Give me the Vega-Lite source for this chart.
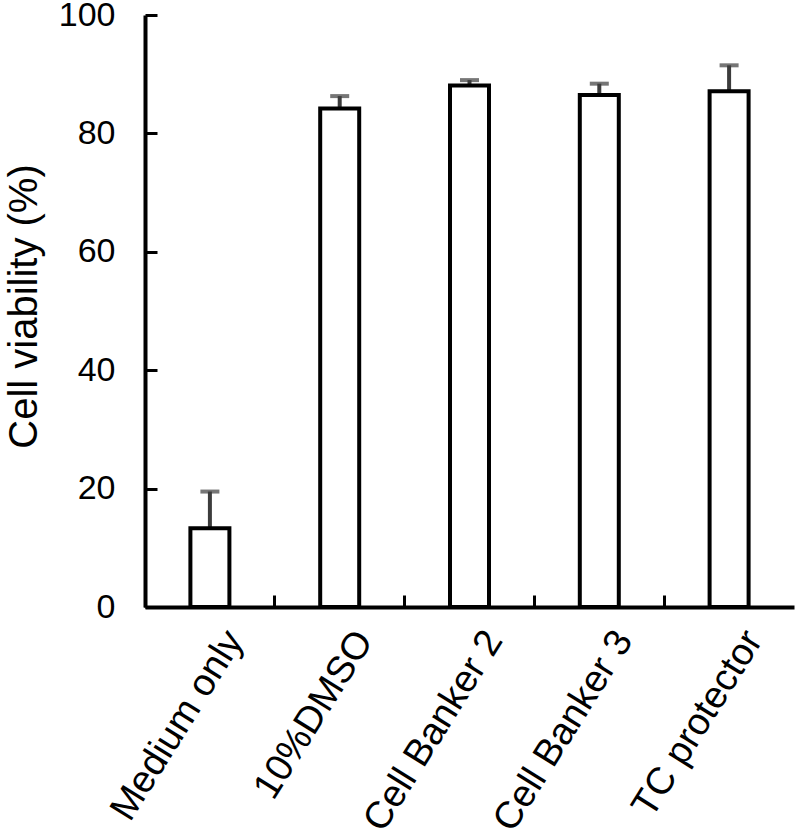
{
  "$schema": "https://vega.github.io/schema/vega-lite/v6.json",
  "width": 649,
  "height": 592,
  "autosize": {"type": "none"},
  "padding": {"left": 145, "top": 15, "right": 6, "bottom": 232},
  "background": "white",
  "config": {"view": {"stroke": null}, "font": "Liberation Sans"},
  "data": {"values": [
    {"group": "Medium only", "mean": 13.3, "upper": 19.5},
    {"group": "10%DMSO", "mean": 84.2, "upper": 86.3},
    {"group": "Cell Banker 2", "mean": 88.1, "upper": 89.0},
    {"group": "Cell Banker 3", "mean": 86.5, "upper": 88.4},
    {"group": "TC protector", "mean": 87.1, "upper": 91.5}
  ]},
  "resolve": {"axis": {"x": "independent", "y": "independent"}},
  "layer": [
    {
      "mark": {"type": "rule", "color": "#3c3c3c", "strokeWidth": 4},
      "encoding": {
        "x": {
          "field": "group", "type": "nominal", "sort": null,
          "scale": {"paddingInner": 0, "paddingOuter": 0},
          "axis": {
            "orient": "bottom", "title": null, "offset": -12, "domain": false, "labels": false,
            "bandPosition": 0, "tickSize": 12, "tickWidth": 3, "tickColor": "black", "tickOpacity": 1
          }
        },
        "y": {
          "field": "mean", "type": "quantitative", "scale": {"domain": [0, 100], "nice": false},
          "axis": {
            "orient": "left", "title": null, "offset": -12, "domain": false, "labels": false, "grid": false,
            "values": [0, 20, 40, 60, 80, 100], "tickSize": 12, "tickWidth": 3, "tickColor": "black"
          }
        },
        "y2": {"field": "upper"}
      }
    },
    {
      "mark": {"type": "bar", "fill": "white", "stroke": "black", "strokeWidth": 4, "width": 39},
      "encoding": {
        "x": {
          "field": "group", "type": "nominal", "sort": null,
          "axis": {
            "orient": "bottom", "title": null,
            "domainColor": "black", "domainWidth": 4, "ticks": false,
            "labelAngle": -58, "labelAlign": "right", "labelBaseline": "middle",
            "labelFontSize": 38, "labelColor": "black", "labelOffset": 25, "labelPadding": 27,
            "labelBound": false, "labelOverlap": false, "labelFlush": false, "labelLimit": 0
          }
        },
        "y": {
          "field": "mean", "type": "quantitative",
          "axis": {
            "orient": "left",
            "title": "Cell viability (%)", "titleFontSize": 40, "titleFontWeight": "normal", "titleColor": "black", "titlePadding": 14, "titleY": 291,
            "values": [0, 20, 40, 60, 80, 100], "grid": false,
            "domainColor": "black", "domainWidth": 4, "ticks": false,
            "labelFontSize": 34, "labelColor": "black", "labelPadding": 30
          }
        }
      }
    },
    {
      "mark": {"type": "tick", "color": "#3c3c3c", "thickness": 4, "size": 19},
      "encoding": {
        "x": {"field": "group", "type": "nominal", "sort": null, "axis": null},
        "y": {"field": "upper", "type": "quantitative", "axis": null}
      }
    }
  ]
}
